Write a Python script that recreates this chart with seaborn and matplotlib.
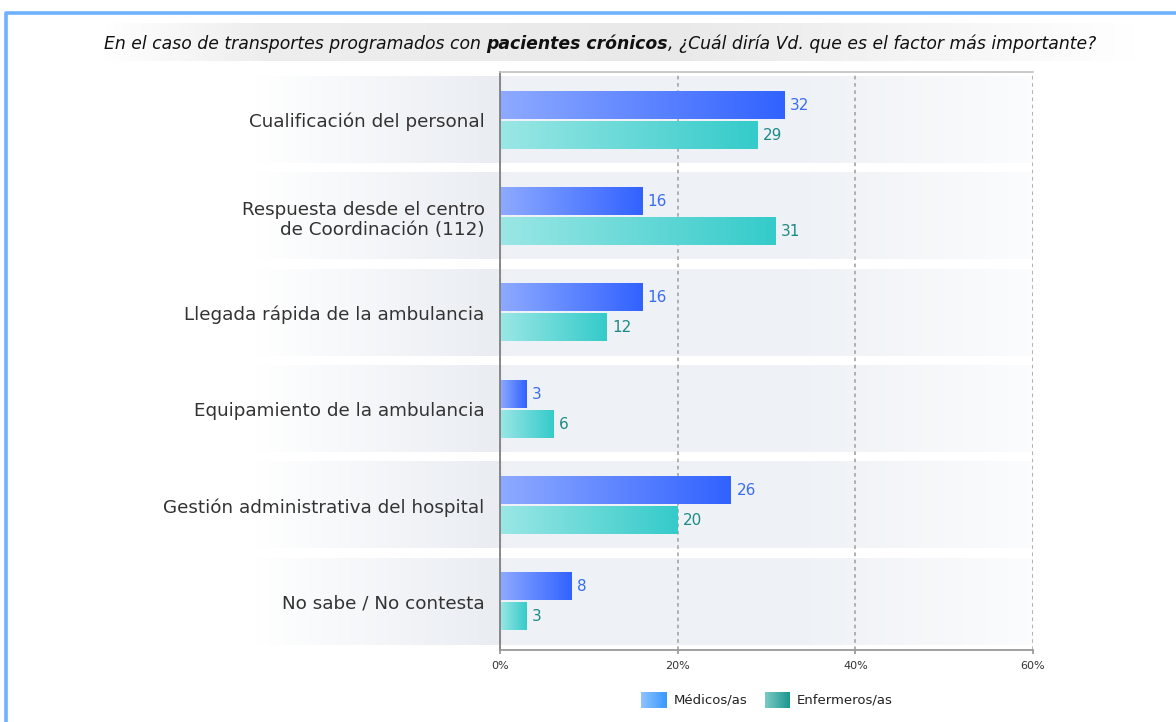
import matplotlib
matplotlib.use('Agg')

import numpy as np
import pandas as pd
import matplotlib.pyplot as plt
import seaborn as sns
from matplotlib.colors import LinearSegmentedColormap

# --- datos ---
categorias = ['Cualificación del personal',
              'Respuesta desde el centro\nde Coordinación (112)',
              'Llegada rápida de la ambulancia',
              'Equipamiento de la ambulancia',
              'Gestión administrativa del hospital',
              'No sabe / No contesta']
medicos = [32, 16, 16, 3, 26, 8]
enfermeros = [29, 31, 12, 6, 20, 3]
grupos = ['Médicos/as', 'Enfermeros/as']
ticks_x = [0, 20, 40, 60]

df = pd.DataFrame({
    'Categoria': categorias * 2,
    'Grupo': [grupos[0]] * len(categorias) + [grupos[1]] * len(categorias),
    'Valor': medicos + enfermeros,
})

sns.set_theme(style='white')
plt.rcParams['font.family'] = ['DejaVu Sans']

W, H = 1176, 722
fig = plt.figure(figsize=(W / 100, H / 100), dpi=100)
fig.patch.set_facecolor('white')

# lienzo de fondo en coordenadas de pixel
canvas = fig.add_axes([0, 0, 1, 1], zorder=0)
canvas.axis('off')

ax = fig.add_axes([500 / W, 1 - 650 / H, 533 / W, 578 / H], zorder=1)
ax.patch.set_alpha(0)

sns.barplot(data=df, y='Categoria', x='Valor', hue='Grupo', orient='h',
            order=categorias, hue_order=grupos,
            palette=['#5a82ff', '#5cd6d4'], width=0.625, gap=0.1,
            legend=False, ax=ax, zorder=2)

grad = np.linspace(0, 1, 256).reshape(1, -1)
cmap_med = LinearSegmentedColormap.from_list('med', ['#8eaaff', '#3162ff'])
cmap_enf = LinearSegmentedColormap.from_list('enf', ['#9be7e5', '#34cbca'])
cmap_band = LinearSegmentedColormap.from_list(
    'band', [(0, '#ffffff'), (0.318, '#e9edf2'), (0.322, '#eef2f6'),
             (0.72, '#eff2f6'), (1, '#fbfcfd')])

# bandas de fondo por categoria
for i in range(len(categorias)):
    im = ax.imshow(grad, cmap=cmap_band, extent=[-28, 60, i + 0.445, i - 0.455],
                   aspect='auto', zorder=0.2, interpolation='bicubic')
    im.set_clip_on(False)

# barras con degradado
colores_txt = ['#3a6cf2', '#1c8a86']
for cont, cmap, col in zip(ax.containers, [cmap_med, cmap_enf], colores_txt):
    for bar in cont:
        x0, y0 = bar.get_x(), bar.get_y()
        w, h = bar.get_width(), bar.get_height()
        bar.set_facecolor('none')
        bar.set_edgecolor('none')
        ax.imshow(grad, cmap=cmap, extent=[x0, x0 + w, y0 + h, y0],
                  aspect='auto', zorder=2, interpolation='bicubic')
    ax.bar_label(cont, labels=[f'{v:g}' for v in cont.datavalues],
                 padding=4, color=col, fontsize=11)

ax.set_xlim(0, 60)
ax.set_ylim(len(categorias) - 0.5, -0.5)
ax.set_xlabel('')
ax.set_ylabel('')
ax.set_xticks(ticks_x)
ax.set_xticklabels([f'{t}%' for t in ticks_x])
ax.set_axisbelow(True)
ax.xaxis.grid(True, color='#aaaaaa', linestyle=(0, (2, 2)), linewidth=1.3)
ax.yaxis.grid(False)
ax.tick_params(axis='x', length=3, color='#999999', labelsize=8,
               labelcolor='#333333', pad=5, bottom=True)
ax.tick_params(axis='y', length=0, pad=11, labelsize=13.2, labelcolor='#333333')
for lab in ax.get_yticklabels():
    lab.set_multialignment('right')
ax.spines['left'].set_color('#808080')
ax.spines['left'].set_linewidth(1.3)
ax.spines['bottom'].set_color('#9a9a9a')
ax.spines['bottom'].set_linewidth(1.3)
ax.spines['top'].set_color('#c4c4c4')
ax.spines['right'].set_visible(False)

# --- lienzo: borde, titulo, leyenda ---
cmap_title = LinearSegmentedColormap.from_list(
    'tit', [(0, '#ffffff'), (0.15, '#eeeeee'), (0.55, '#e9e9e9'),
            (0.8, '#f5f5f5'), (1, '#ffffff')])
canvas.imshow(grad, cmap=cmap_title, extent=[100, 1140, 61, 23],
              aspect='auto', zorder=0, interpolation='bicubic')

canvas.plot([6, 6, W + 5], [H + 5, 13, 13], color='#6fb2ff', lw=2.6,
            solid_capstyle='butt', clip_on=False)

cmap_lmed = LinearSegmentedColormap.from_list('lmed', ['#8fc4ff', '#3898ff'])
cmap_lenf = LinearSegmentedColormap.from_list('lenf', ['#7ccbc6', '#1b978f'])
canvas.imshow(grad, cmap=cmap_lmed, extent=[641, 667, 708, 692], aspect='auto')
canvas.imshow(grad, cmap=cmap_lenf, extent=[765, 790, 708, 692], aspect='auto')
canvas.text(674, 700, grupos[0], ha='left', va='center', fontsize=9.5, color='#222222')
canvas.text(797, 700, grupos[1], ha='left', va='center', fontsize=9.5, color='#222222')

canvas.set_xlim(0, W)
canvas.set_ylim(H, 0)

# titulo en tres partes (cursiva y negrita cursiva)
partes = [('En el caso de transportes programados con ', 'normal'),
          ('pacientes crónicos', 'bold'),
          (', ¿Cuál diría Vd. que es el factor más importante?', 'normal')]
textos = [canvas.text(0, 44, t, ha='left', va='center', fontsize=12.4,
                      style='italic', weight=wt, color='#111111')
          for t, wt in partes]
fig.canvas.draw()
rend = fig.canvas.get_renderer()
anchos = [t.get_window_extent(rend).width for t in textos]
x = 600 - sum(anchos) / 2
for t, a in zip(textos, anchos):
    t.set_x(x)
    x += a

fig.savefig('out.png', dpi=100, facecolor='white')
